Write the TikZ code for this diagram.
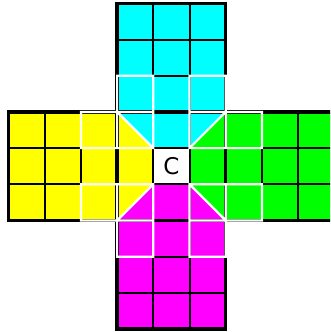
\documentclass[tikz,border=0pt]{standalone}
\usepackage{fontspec}
\newfontfamily\cfont{DejaVu Sans}
\definecolor{cy}{RGB}{0,255,255}
\definecolor{yl}{RGB}{255,255,0}
\definecolor{gr}{RGB}{0,255,0}
\definecolor{mg}{RGB}{255,0,255}
\tikzset{
  thingrid/.style={draw=black, line width=2pt},
  faceborder/.style={draw=black, line width=3.3pt},
  cornerline/.style={draw=white, line width=2.2pt},
}
\begin{document}
\begin{tikzpicture}[x=1pt,y=-1pt]
\useasboundingbox (0,0) rectangle (330,332);
\clip (0,0) rectangle (330,332);
\fill[white] (0,0) rectangle (330,332);
\begin{scope}[shift={(8.5,3.3)}, x=36.2pt, y=-36.2pt]
  % face fills
  \fill[cy] (3,0) rectangle (6,3);
  \fill[yl] (0,3) rectangle (3,6);
  \fill[gr] (6,3) rectangle (9,6);
  \fill[mg] (3,6) rectangle (6,9);
  % centre face
  \fill[cy] (4,3) rectangle (5,4);
  \fill[yl] (3,4) rectangle (4,5);
  \fill[gr] (5,4) rectangle (6,5);
  \fill[mg] (4,5) rectangle (5,6);
  \fill[white] (4,4) rectangle (5,5);
  % split corners
  \fill[cy] (3,3) -- (4,3) -- (4,4) -- cycle;
  \fill[yl] (3,3) -- (3,4) -- (4,4) -- cycle;
  \fill[cy] (5,3) -- (6,3) -- (5,4) -- cycle;
  \fill[gr] (6,3) -- (6,4) -- (5,4) -- cycle;
  \fill[yl] (3,5) -- (4,5) -- (3,6) -- cycle;
  \fill[mg] (4,5) -- (4,6) -- (3,6) -- cycle;
  \fill[gr] (5,5) -- (6,5) -- (6,6) -- cycle;
  \fill[mg] (5,5) -- (5,6) -- (6,6) -- cycle;
  % thin grids
  \foreach \k in {1,2} {
    \draw[thingrid] (3+\k,0) -- (3+\k,3);
    \draw[thingrid] (3,\k) -- (6,\k);
    \draw[thingrid] (\k,3) -- (\k,6);
    \draw[thingrid] (0,3+\k) -- (3,3+\k);
    \draw[thingrid] (6+\k,3) -- (6+\k,6);
    \draw[thingrid] (6,3+\k) -- (9,3+\k);
    \draw[thingrid] (3+\k,6) -- (3+\k,9);
    \draw[thingrid] (3,6+\k) -- (6,6+\k);
    \draw[thingrid] (3+\k,3) -- (3+\k,6);
    \draw[thingrid] (3,3+\k) -- (6,3+\k);
  }
  % thick face borders
  \draw[faceborder] (3,0) rectangle (6,3);
  \draw[faceborder] (0,3) rectangle (3,6);
  \draw[faceborder] (6,3) rectangle (9,6);
  \draw[faceborder] (3,6) rectangle (6,9);
  \draw[faceborder] (3,3) rectangle (6,6);
  % white corner pieces
  \draw[cornerline] (3,2) rectangle (4,3) (2,3) rectangle (3,4) (3,3) rectangle (4,4) (3,3) -- (4,4);
  \draw[cornerline] (5,2) rectangle (6,3) (6,3) rectangle (7,4) (5,3) rectangle (6,4) (6,3) -- (5,4);
  \draw[cornerline] (2,5) rectangle (3,6) (3,6) rectangle (4,7) (3,5) rectangle (4,6) (4,5) -- (3,6);
  \draw[cornerline] (6,5) rectangle (7,6) (5,6) rectangle (6,7) (5,5) rectangle (6,6) (5,5) -- (6,6);
  \node (c) at (4.5,4.5) {\cfont\fontsize{23}{23}\selectfont C};
\end{scope}
\end{tikzpicture}
\end{document}
